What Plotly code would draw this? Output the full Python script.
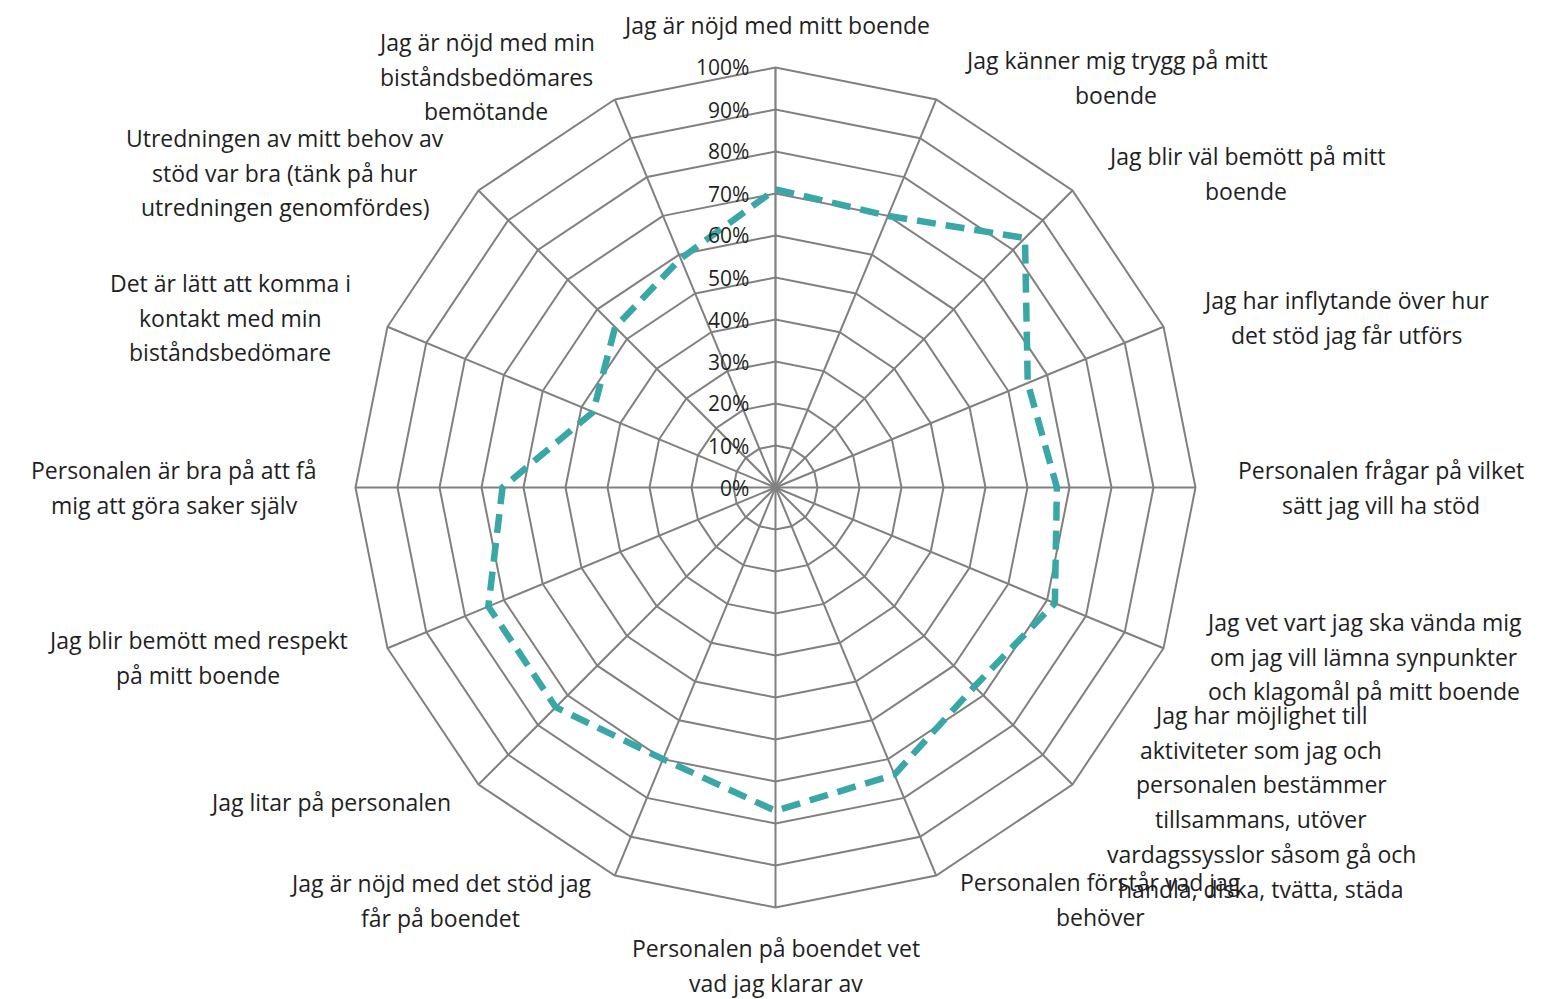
import plotly.graph_objects as go

# ---- data ----
categories = [
    "Jag är nöjd med mitt boende",
    "Jag känner mig trygg på mitt<br>boende",
    "Jag blir väl bemött på mitt<br>boende",
    "Jag har inflytande över hur<br>det stöd jag får utförs",
    "Personalen frågar på vilket<br>sätt jag vill ha stöd",
    "Jag vet vart jag ska vända mig<br>om jag vill lämna synpunkter<br>och klagomål på mitt boende",
    "Jag har möjlighet till<br>aktiviteter som jag och<br>personalen bestämmer<br>tillsammans, utöver<br>vardagssysslor såsom gå och<br>handla, diska, tvätta, städa",
    "Personalen förstår vad jag<br>behöver",
    "Personalen på boendet vet<br>vad jag klarar av",
    "Jag är nöjd med det stöd jag<br>får på boendet",
    "Jag litar på personalen",
    "Jag blir bemött med respekt<br>på mitt boende",
    "Personalen är bra på att få<br>mig att göra saker själv",
    "Det är lätt att komma i<br>kontakt med min<br>biståndsbedömare",
    "Utredningen av mitt behov av<br>stöd var bra (tänk på hur<br>utredningen genomfördes)",
    "Jag är nöjd med min<br>biståndsbedömares<br>bemötande",
]
values = [71, 70, 84, 65, 67, 72, 67, 74, 77, 70, 74, 74, 65, 47, 54, 59]
radial_ticks = [0, 10, 20, 30, 40, 50, 60, 70, 80, 90, 100]
radial_tick_labels = [f"{t}%" for t in radial_ticks]

# ---- layout helpers (pixel geometry of the page) ----
W, H = 1545, 999
CX, CY, R = 775.5, 487.5, 420
LINE_H = 34.7
# first-line centre (x, y) in pixels for each category label
label_pos = [
    (776, 25), (1116, 60), (1246, 156), (1346, 300), (1381, 470),
    (1364, 622), (1261, 715), (1100, 882), (776, 948), (440, 883),
    (330, 802), (198, 640), (174, 470), (230, 283), (285, 138), (486, 42),
]
FONT = "Open Sans"
TXT = "#1f1f1f"
GRID = "#808080"
RMAX = radial_ticks[-1]

fig = go.Figure()
fig.add_trace(go.Scatterpolar(
    r=values + values[:1],
    theta=categories + categories[:1],
    mode="lines",
    line=dict(color="#3AA7A7", width=6.5, dash="19px,10px"),
    hoverinfo="skip",
    showlegend=False,
))

annotations = []
for name, (px, py) in zip(categories, label_pos):
    for i, line in enumerate(name.split("<br>")):
        annotations.append(dict(
            x=px / W, y=1 - (py + i * LINE_H) / H,
            xref="paper", yref="paper",
            text=line, showarrow=False,
            xanchor="center", yanchor="middle",
            font=dict(family=FONT, size=23, color=TXT),
        ))

# radial tick labels, placed left of the vertical axis at each ring
for t, lab in zip(radial_ticks, radial_tick_labels):
    annotations.append(dict(
        x=(CX - 25) / W, y=1 - (CY - R * t / RMAX) / H,
        xref="paper", yref="paper",
        text=lab, showarrow=False,
        xanchor="right", yanchor="middle",
        font=dict(family=FONT, size=21, color=TXT),
    ))

fig.update_layout(
    width=W, height=H,
    margin=dict(l=0, r=0, t=0, b=0),
    paper_bgcolor="white",
    plot_bgcolor="white",
    showlegend=False,
    annotations=annotations,
    polar=dict(
        domain=dict(x=[(CX - R) / W, (CX + R) / W],
                    y=[1 - (CY + R) / H, 1 - (CY - R) / H]),
        bgcolor="white",
        gridshape="linear",
        radialaxis=dict(
            range=[0, RMAX],
            tickvals=radial_ticks,
            angle=90,
            showline=True,
            linecolor=GRID,
            linewidth=1.5,
            gridcolor=GRID,
            gridwidth=1.5,
            ticks="",
            showticklabels=False,
        ),
        angularaxis=dict(
            type="category",
            categoryarray=categories,
            direction="clockwise",
            rotation=90,
            showticklabels=False,
            ticks="",
            showline=True,
            linecolor=GRID,
            linewidth=2,
            gridcolor=GRID,
            gridwidth=1.5,
        ),
    ),
)

fig.write_html(
    "out.html",
    config={"displayModeBar": False},
    post_script="document.body.style.margin='0';document.body.style.overflow='hidden';",
)
